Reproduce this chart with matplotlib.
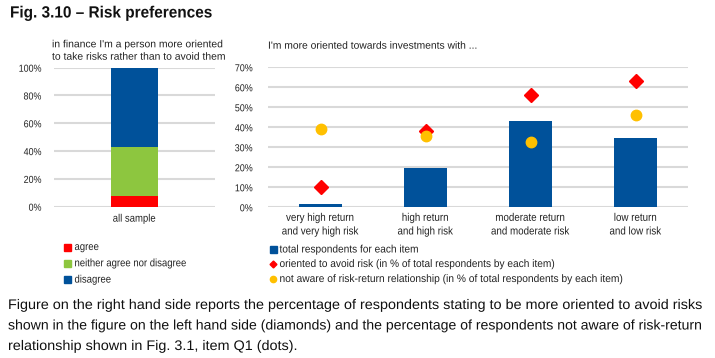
import matplotlib.pyplot as plt
import numpy as np
from matplotlib.patches import Rectangle
from matplotlib.lines import Line2D
from matplotlib.patheffects import AbstractPathEffect
from matplotlib.transforms import Affine2D

plt.rcParams['font.family'] = ['Liberation Sans', 'DejaVu Sans']

# left chart data
left_cat = ["all sample"]
agree = [8]
neither = [35]
disagree = [57]
left_labels = ["agree", "neither agree nor disagree", "disagree"]

# right chart data
right_cats = ["very high return\nand very high risk", "high return\nand high risk",
              "moderate return\nand moderate risk", "low return\nand low risk"]
total_resp = [1.6, 19.8, 43.3, 34.7]
avoid_risk = [10.3, 38.3, 56.0, 63.2]
not_aware = [39.3, 35.7, 32.8, 46.0]
right_labels = ["total respondents for each item",
                "oriented to avoid risk (in % of total respondents by each item)",
                "not aware of risk-return relationship (in % of total respondents by each item)"]

BLUE = "#00519A"
GREEN = "#8DC63F"
RED = "#FF0000"
GOLD = "#FFC000"
GRID = "#D9D9D9"
TXT = "#222222"


# squeeze glyphs horizontally (the original uses a condensed font)
class Condense(AbstractPathEffect):
    def __init__(self, sx, anchor="left"):
        super().__init__()
        self.sx = sx
        self.anchor = anchor

    def draw_path(self, renderer, gc, tpath, affine, rgbFace=None):
        ext = tpath.get_extents()
        if self.anchor == "center":
            cx = (ext.x0 + ext.x1) / 2
        elif self.anchor == "right":
            cx = ext.x1
        else:
            cx = 0
        t = Affine2D().translate(-cx, 0).scale(self.sx, 1).translate(cx, 0) + affine
        renderer.draw_path(gc, tpath, t, rgbFace)


fig = plt.figure(figsize=(7.15, 3.58), dpi=100)
fit = []  # (text, target width in px)

title = fig.text(10/715, 1 - 13/358, "Fig. 3.10 \u2013 Risk preferences", fontsize=11.7,
                 fontweight="bold", va="center", ha="left", color="#111111")
fit.append((title, 202))

# ---- left chart
ax1 = fig.add_axes([54/715, 151.3/358, 161/715, 139/358])
x = np.arange(len(left_cat))
a = np.array(agree) / 100
n = np.array(neither) / 100
d = np.array(disagree) / 100
w = 0.29
ax1.bar(x, a, width=w, color=RED)
ax1.bar(x, n, bottom=a, width=w, color=GREEN)
ax1.bar(x, d, bottom=a + n, width=w, color=BLUE)
ax1.set_xlim(-0.5, 0.5)
ax1.set_ylim(0, 1)
ax1.set_yticks(np.arange(0, 1.01, 0.2))
ax1.set_yticklabels([f"{int(round(v*100))}%" for v in np.arange(0, 1.01, 0.2)])
ax1.set_xticks(x)
ax1.set_xticklabels(left_cat)
ax1.yaxis.grid(True, color=GRID, lw=1.5)
ax1.set_axisbelow(True)
for s in ax1.spines.values():
    s.set_visible(False)
ax1.tick_params(length=0, colors=TXT)
ax1.tick_params(axis="y", pad=9, labelsize=7.3)
ax1.tick_params(axis="x", pad=5, labelsize=7.8)
sub1 = fig.text(52/715, 1 - 50.5/358, "in finance I'm a person more oriented\nto take risks rather than to avoid them",
                fontsize=7.5, va="center", ha="left", color=TXT, linespacing=1.3)
fit.append((sub1, 173))

# left legend
for i, (lab, col) in enumerate(zip(left_labels, [RED, GREEN, BLUE])):
    yy = 1 - (247 + 16.3 * i) / 358
    fig.patches.append(Rectangle((64/715, yy - 3.5/358), 7/715, 7/358, color=col,
                                 transform=fig.transFigure, figure=fig))
    t = fig.text(74.5/715, yy, lab, fontsize=7.8, va="center", ha="left", color=TXT)
    fit.append((t, None))

# ---- right chart
ax2 = fig.add_axes([268/715, 150.7/358, 420/715, 140/358])
xr = np.arange(len(right_cats))
ax2.bar(xr, np.array(total_resp) / 100, width=0.41, color=BLUE, zorder=2)
ax2.plot(xr, np.array(avoid_risk) / 100, "D", color=RED, ms=7.5, ls="none", zorder=3)
ax2.plot(xr, np.array(not_aware) / 100, "o", color=GOLD, ms=7.5, ls="none", zorder=3)
ax2.set_xlim(-0.5, len(right_cats) - 0.5)
ax2.set_ylim(0, 0.70)
yt = np.arange(0, 0.701, 0.1)
ax2.set_yticks(yt)
ax2.set_yticklabels([f"{int(round(v*100))}%" for v in yt])
ax2.set_xticks(xr)
ax2.set_xticklabels(right_cats, linespacing=1.45)
ax2.yaxis.grid(True, color=GRID, lw=1.5)
ax2.set_axisbelow(True)
for s in ax2.spines.values():
    s.set_visible(False)
ax2.tick_params(length=0, colors=TXT)
ax2.tick_params(axis="y", pad=11, labelsize=7.3)
ax2.tick_params(axis="x", pad=4, labelsize=8)
sub2 = fig.text(268/715, 1 - 45.7/358, "I'm more oriented towards investments with ...",
                fontsize=7.5, va="center", ha="left", color=TXT)
fit.append((sub2, 209))

# right legend
yy = 1 - 249.5/358
fig.patches.append(Rectangle((269.5/715, yy - 3.5/358), 7.5/715, 7/358, color=BLUE,
                             transform=fig.transFigure, figure=fig))
t = fig.text(279.5/715, yy, right_labels[0], fontsize=7.8, va="center", ha="left", color=TXT)
fit.append((t, 141))
yy = 1 - 264/358
fig.lines.append(Line2D([273/715], [yy], marker="D", color=RED, ms=3.5,
                        transform=fig.transFigure, figure=fig))
t = fig.text(279.5/715, yy, right_labels[1], fontsize=7.8, va="center", ha="left", color=TXT)
fit.append((t, 279))
yy = 1 - 279/358
fig.lines.append(Line2D([273/715], [yy], marker="o", color=GOLD, ms=4.5,
                        transform=fig.transFigure, figure=fig))
t = fig.text(279.5/715, yy, right_labels[2], fontsize=7.8, va="center", ha="left", color=TXT)
fit.append((t, 348))

# caption (first two lines justified to the full width)
caption = ["Figure on the right hand side reports the percentage of respondents stating to be more oriented to avoid risks",
           "shown in the figure on the left hand side (diamonds) and the percentage of respondents not aware of risk-return",
           "relationship shown in Fig. 3.1, item Q1 (dots)."]
cap_txt = []
for i, line in enumerate(caption):
    t = fig.text(8/715, 1 - (305 + 20.5 * i) / 358, line, fontsize=10, va="center",
                 ha="left", color="#111111")
    cap_txt.append(t)
fit.append((cap_txt[0], 697))
fit.append((cap_txt[1], 697))

# measure and condense
fig.canvas.draw()
r = fig.canvas.get_renderer()
sx_default = 0.88
for t, target in fit:
    if target is None:
        t.set_path_effects([Condense(sx_default)])
    else:
        wpx = t.get_window_extent(r).width
        t.set_path_effects([Condense(target / wpx)])
sx_cap = 697 / cap_txt[0].get_window_extent(r).width
cap_txt[2].set_path_effects([Condense(sx_cap)])

for lab in ax1.get_xticklabels() + ax2.get_xticklabels():
    lab.set_path_effects([Condense(sx_default, "center")])
for lab in ax1.get_yticklabels() + ax2.get_yticklabels():
    lab.set_path_effects([Condense(sx_default, "right")])

fig.savefig("out.png", dpi=100)
